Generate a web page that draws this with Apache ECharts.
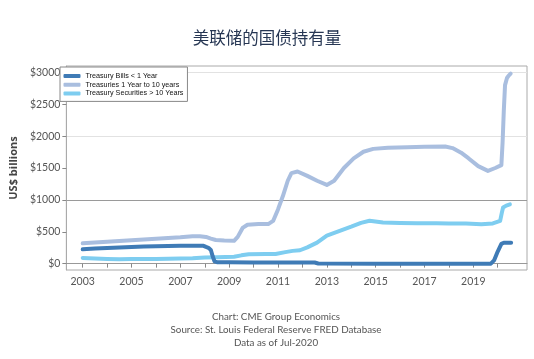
<!DOCTYPE html>
<html><head><meta charset="utf-8">
<script src="https://cdn.jsdelivr.net/npm/echarts@6/dist/echarts.min.js"></script>
<style>html,body{margin:0;padding:0;background:#fff}#c{width:534px;height:359px}</style>
</head><body><div id="c"></div>
<script>
const titleText = '美联储的国债持有量';
const notes = ['Chart: CME Group Economics', 'Source: St. Louis Federal Reserve FRED Database', 'Data as of Jul-2020'];
const seriesNames = ['Treasury Bills < 1 Year', 'Treasuries 1 Year to 10 years', 'Treasury Securities > 10 Years'];
const yTickValues = [0, 500, 1000, 1500, 2000, 2500, 3000];
const xLabelYears = [2003, 2005, 2007, 2009, 2011, 2013, 2015, 2017, 2019];
const xTickYears = [2003,2004,2005,2006,2007,2008,2009,2010,2011,2012,2013,2014,2015,2016,2017,2018,2019,2020];
const gridValues = [0, 1000, 2000, 3000];

const billsData = [[2003.0,225],[2003.5,236],[2004.0,246],[2004.5,253],[2005.0,262],[2005.5,268],[2006.0,272],[2006.5,276],[2007.0,279],[2007.5,280],[2007.95,279],[2008.05,262],[2008.15,248],[2008.25,215],[2008.32,120],[2008.4,35],[2008.5,22],[2009.0,20],[2010.0,19],[2011.0,18],[2012.0,18],[2012.5,17],[2012.65,2],[2013.0,0],[2015.0,0],[2017.0,0],[2019.0,0],[2019.72,0],[2019.85,50],[2020.0,190],[2020.15,310],[2020.25,327],[2020.55,326]];
const notesData = [[2003.0,318],[2003.5,330],[2004.0,345],[2004.5,355],[2005.0,368],[2005.5,380],[2006.0,392],[2006.5,402],[2007.0,412],[2007.5,430],[2007.8,428],[2008.05,418],[2008.25,392],[2008.45,370],[2008.8,362],[2009.2,358],[2009.35,420],[2009.55,560],[2009.75,610],[2010.2,620],[2010.6,620],[2010.8,670],[2011.0,850],[2011.2,1060],[2011.4,1300],[2011.55,1420],[2011.8,1445],[2012.2,1376],[2012.6,1300],[2013.0,1234],[2013.3,1300],[2013.7,1500],[2014.1,1650],[2014.5,1755],[2014.9,1800],[2015.5,1818],[2016.3,1827],[2017.0,1832],[2017.85,1838],[2018.15,1812],[2018.5,1740],[2018.8,1654],[2019.2,1530],[2019.6,1455],[2019.9,1500],[2020.15,1545],[2020.2,1900],[2020.25,2400],[2020.3,2800],[2020.38,2912],[2020.45,2950],[2020.53,2980]];
const bondsData = [[2003.0,90],[2003.5,80],[2004.0,73],[2004.5,70],[2005.0,72],[2005.5,72],[2006.0,73],[2006.5,76],[2007.0,80],[2007.5,84],[2008.0,95],[2008.5,100],[2009.2,107],[2009.5,130],[2009.8,148],[2010.5,150],[2010.9,150],[2011.3,180],[2011.6,200],[2011.9,210],[2012.2,255],[2012.6,330],[2013.0,440],[2013.5,510],[2014.0,580],[2014.4,640],[2014.75,672],[2015.3,645],[2016.0,638],[2016.7,632],[2017.5,634],[2018.0,630],[2018.7,628],[2019.33,616],[2019.8,630],[2020.1,670],[2020.17,800],[2020.22,880],[2020.35,910],[2020.5,930]];

const chart = echarts.init(document.getElementById('c'));
const lab = {color:'#555', fontSize:10.5, fontFamily:'Lato, "Open Sans", sans-serif'};
chart.setOption({
  animation:false,
  backgroundColor:'#fff',
  title:[
    {text:titleText, left:'center', top:24, textStyle:{fontFamily:'"Noto Sans CJK SC"', fontSize:16.5, fontWeight:'normal', color:'#263653'}},
    {text:notes.join('\n'), left:271, textAlign:'center', top:305, textStyle:{fontFamily:'Lato, "Open Sans", sans-serif', fontSize:9.8, fontWeight:'normal', color:'#555', lineHeight:13}}
  ],
  grid:{left:56, right:7, top:66, bottom:89, show:true, borderColor:'#aaa', borderWidth:1},
  legend:{
    data:seriesNames, orient:'vertical', left:60, top:67, itemWidth:17, itemHeight:4, itemGap:0.7,
    icon:'roundRect', backgroundColor:'#fff', borderColor:'#888', borderWidth:1, borderRadius:0,
    padding:[5,4,4,3.5], textStyle:{fontSize:7.2, fontFamily:'Arial, "Liberation Sans"', color:'#111', lineHeight:8}
  },
  xAxis:{type:'value', min:2002.33, max:2021.2,
    axisLine:{lineStyle:{color:'#999'}},
    axisTick:{customValues:xTickYears, length:4, lineStyle:{color:'#888'}},
    axisLabel:Object.assign({customValues:xLabelYears, margin:6, formatter:v=>String(v)}, lab),
    splitLine:{show:false}},
  yAxis:{type:'value', min:-100, max:3100,
    name:'US$ billions', nameLocation:'middle', nameGap:44, nameRotate:90,
    nameTextStyle:{fontSize:11, fontWeight:'bold', color:'#444', fontFamily:'"Open Sans", Lato, sans-serif'},
    axisLine:{show:true, lineStyle:{color:'#aaa'}},
    axisTick:{show:true, customValues:yTickValues, length:4, lineStyle:{color:'#888'}},
    axisLabel:Object.assign({customValues:yTickValues, margin:6, formatter:v=>'$'+v}, lab),
    splitLine:{show:false}},
  series:[
    {type:'line', name:'grid', data:[], silent:true, z:0,
      markLine:{silent:true, symbol:'none', z:0, label:{show:false}, animation:false,
        data:gridValues.map(v=>({yAxis:v, lineStyle:{color: v===1000?'#9a9a9a':'#e2e2e2', width:1, type:'solid'}}))}},
    {type:'line', name:seriesNames[0], data:billsData, showSymbol:false, z:4, lineStyle:{width:4, color:'#3f7bb6', cap:'round', join:'round'}, itemStyle:{color:'#3f7bb6'}},
    {type:'line', name:seriesNames[1], data:notesData, showSymbol:false, z:3, lineStyle:{width:4, color:'#a9bedf', cap:'round', join:'round'}, itemStyle:{color:'#a9bedf'}},
    {type:'line', name:seriesNames[2], data:bondsData, showSymbol:false, z:3, lineStyle:{width:4, color:'#7ecdf0', cap:'round', join:'round'}, itemStyle:{color:'#7ecdf0'}}
  ]
});
</script></body></html>
